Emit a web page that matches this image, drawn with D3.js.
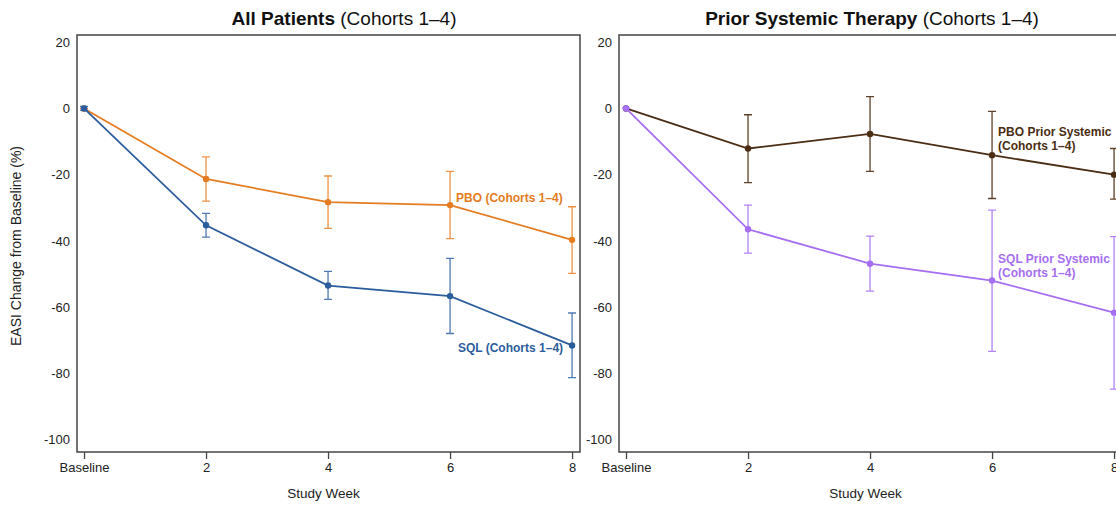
<!DOCTYPE html>
<html lang="en">
<head>
    <meta charset="UTF-8">
    <title>EASI Change from Baseline</title>
    <style>
        body {
            margin: 0;
            background: #fff;
            font-family: "Liberation Sans", Arial, Helvetica, sans-serif;
        }
        .axis text { font-size: 13px; fill: #222; font-family: "Liberation Sans", Arial, sans-serif; }
        .axis line { stroke: #444; stroke-width: 1.3px; }
        .axis .domain { display: none; }
        .box { fill: none; stroke: #444; stroke-width: 1.5px; }
        .line { fill: none; stroke-width: 1.8px; }
        .err { stroke-width: 1.3px; }
    </style>
</head>
<body>
    <div id="content"></div>
    <script src="https://d3js.org/d3.v7.min.js"></script>
    <script>

        var weeks = [0, 2, 4, 6, 8];
        var weekLabels = ["Baseline", "2", "4", "6", "8"];
        var yTicks = [20, 0, -20, -40, -60, -80, -100];

        // All patients
        var allPboMean = [0, -21.3, -28.3, -29.2, -39.7];
        var allPboLo = [0, -28.0, -36.2, -39.3, -49.8];
        var allPboHi = [0, -14.6, -20.4, -19.0, -29.7];
        var allSqlMean = [0, -35.3, -53.5, -56.7, -71.6];
        var allSqlLo = [-0.6, -38.9, -57.7, -68.0, -81.3];
        var allSqlHi = [0.6, -31.7, -49.2, -45.3, -61.8];

        // Prior systemic therapy
        var priorPboMean = [0, -12.1, -7.7, -14.1, -20.0];
        var priorPboLo = [0, -22.4, -19.0, -27.2, -27.4];
        var priorPboHi = [0, -1.9, 3.6, -0.9, -12.1];
        var priorSqlMean = [0, -36.5, -46.9, -52.0, -61.7];
        var priorSqlLo = [0, -43.7, -55.2, -73.4, -84.8];
        var priorSqlHi = [0, -29.2, -38.6, -30.7, -38.7];

        var W = 1116, H = 506;
        var boxW = 503, boxH = 417;

        var svg = d3.select("#content").append("svg")
            .attr("width", W)
            .attr("height", H);

        function toPoints(mean, lo, hi) {
            return weeks.map(function (w, i) {
                return { week: w, mean: mean[i], lo: lo[i], hi: hi[i] };
            });
        }

        function panel(left, titleBold, titleRest, titleX, series, showYTitle) {
            var x = d3.scaleLinear().domain([-0.115, 8.13]).range([0, boxW]);
            var y = d3.scaleLinear().domain([-103.8, 22.2]).range([boxH, 0]);

            var g = svg.append("g").attr("transform", "translate(" + left + ",35)");

            var title = svg.append("text")
                .attr("x", titleX)
                .attr("y", 25)
                .attr("text-anchor", "middle")
                .style("font-size", "19px")
                .style("fill", "#111");
            title.append("tspan").style("font-weight", "bold").text(titleBold);
            title.append("tspan").text(" " + titleRest);

            g.append("g")
                .attr("class", "axis")
                .attr("transform", "translate(0," + boxH + ")")
                .call(d3.axisBottom(x)
                    .tickValues(weeks)
                    .tickFormat(function (d, i) { return weekLabels[i]; })
                    .tickSize(7)
                    .tickPadding(4));

            // plain hyphen for negatives, as in the source figure
            g.append("g")
                .attr("class", "axis")
                .call(d3.axisLeft(y)
                    .tickValues(yTicks)
                    .tickFormat(function (d) { return String(d); })
                    .tickSize(0)
                    .tickPadding(7));

            g.append("rect")
                .attr("class", "box")
                .attr("width", boxW)
                .attr("height", boxH);

            g.append("text")
                .attr("x", boxW / 2 - 5)
                .attr("y", 463)
                .attr("text-anchor", "middle")
                .style("font-size", "13.5px")
                .style("fill", "#222")
                .text("Study Week");

            if (showYTitle) {
                svg.append("text")
                    .attr("transform", "translate(21,246) rotate(-90)")
                    .attr("text-anchor", "middle")
                    .style("font-size", "14px")
                    .style("fill", "#222")
                    .text("EASI Change from Baseline (%)");
            }

            var line = d3.line()
                .x(function (d) { return x(d.week); })
                .y(function (d) { return y(d.mean); });

            series.forEach(function (s) {
                var sg = g.append("g");
                var pts = s.points;

                sg.selectAll(".err")
                    .data(pts)
                    .enter().append("path")
                    .attr("class", "err")
                    .attr("fill", "none")
                    .attr("stroke", s.errColor)
                    .attr("d", function (d) {
                        var cx = x(d.week), c = 4;
                        return "M" + (cx - c) + "," + y(d.hi) + "H" + (cx + c) +
                            "M" + cx + "," + y(d.hi) + "V" + y(d.lo) +
                            "M" + (cx - c) + "," + y(d.lo) + "H" + (cx + c);
                    });

                sg.append("path")
                    .datum(pts)
                    .attr("class", "line")
                    .attr("stroke", s.color)
                    .attr("d", line);

                sg.selectAll("circle")
                    .data(pts)
                    .enter().append("circle")
                    .attr("cx", function (d) { return x(d.week); })
                    .attr("cy", function (d) { return y(d.mean); })
                    .attr("r", 3.2)
                    .attr("fill", s.color);

                var lp = pts[s.labelAt];
                var lx = x(lp.week) + s.labelDx;
                var ly = y(lp.mean);
                var lab = sg.append("text")
                    .attr("text-anchor", s.anchor)
                    .style("font-size", "12px")
                    .style("font-weight", "bold")
                    .style("fill", s.color);
                s.label.forEach(function (t, i) {
                    lab.append("tspan")
                        .attr("x", lx)
                        .attr("y", ly + s.labelDy + i * 13.5)
                        .attr("dy", "0.35em")
                        .text(t);
                });
            });
        }

        panel(77, "All Patients", "(Cohorts 1\u20134)", 344, [
            {
                points: toPoints(allPboMean, allPboLo, allPboHi),
                color: "#e57c22", errColor: "#ec9247",
                label: ["PBO (Cohorts 1\u20134)"], labelAt: 3, labelDx: 6, labelDy: -7, anchor: "start"
            },
            {
                points: toPoints(allSqlMean, allSqlLo, allSqlHi),
                color: "#2b5d9c", errColor: "#4f7bb3",
                label: ["SQL (Cohorts 1\u20134)"], labelAt: 4, labelDx: -9, labelDy: 2, anchor: "end"
            }
        ], true);

        panel(619, "Prior Systemic Therapy", "(Cohorts 1\u20134)", 872, [
            {
                points: toPoints(priorPboMean, priorPboLo, priorPboHi),
                color: "#4a2d12", errColor: "#5e4128",
                label: ["PBO Prior Systemic", "(Cohorts 1\u20134)"], labelAt: 3, labelDx: 6, labelDy: -23, anchor: "start"
            },
            {
                points: toPoints(priorSqlMean, priorSqlLo, priorSqlHi),
                color: "#a66ef0", errColor: "#b383f2",
                label: ["SQL Prior Systemic", "(Cohorts 1\u20134)"], labelAt: 3, labelDx: 6, labelDy: -21.5, anchor: "start"
            }
        ], false);

    </script>
</body>
</html>
